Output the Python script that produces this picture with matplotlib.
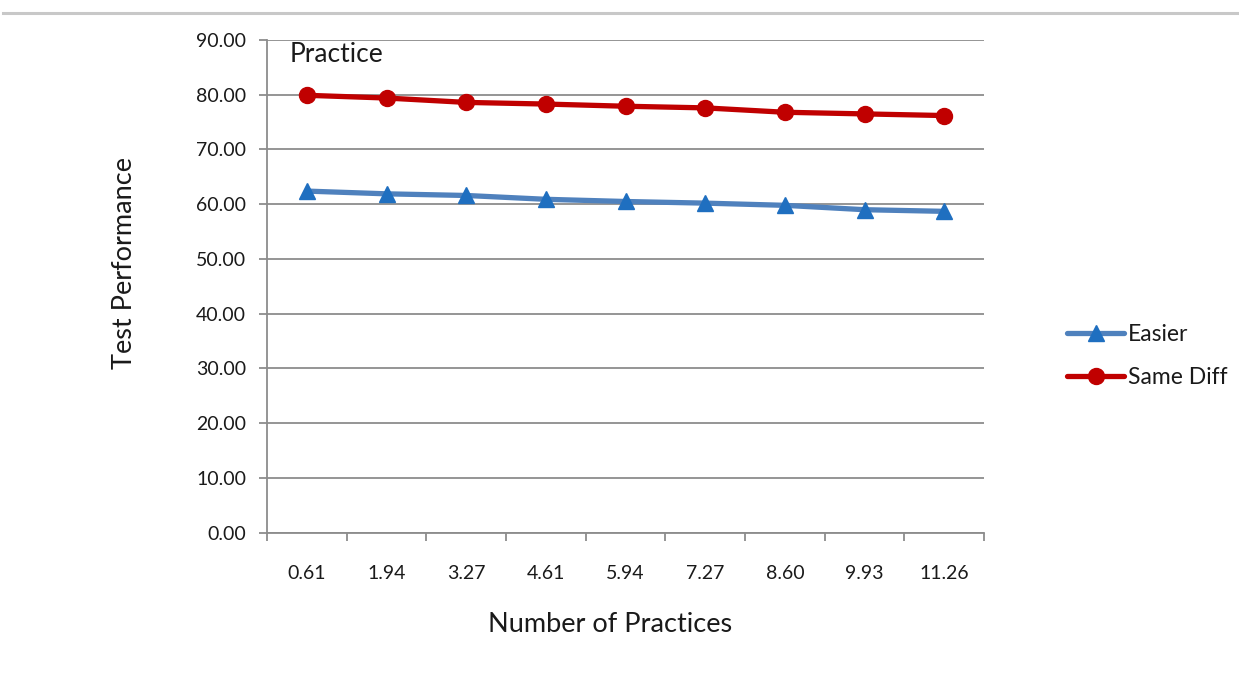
import matplotlib
matplotlib.use("Agg")
import matplotlib.pyplot as plt
from matplotlib.lines import Line2D

plt.rcParams['font.family'] = ['Lato', 'DejaVu Sans']

# Data
practices = ["0.61", "1.94", "3.27", "4.61", "5.94", "7.27", "8.60", "9.93", "11.26"]
easier = [62.4, 61.9, 61.6, 60.9, 60.5, 60.2, 59.8, 59.0, 58.7]
same_diff = [79.9, 79.4, 78.6, 78.3, 77.9, 77.6, 76.8, 76.5, 76.2]
y_ticks = [0, 10, 20, 30, 40, 50, 60, 70, 80, 90]

W, H = 1239, 688
fig = plt.figure(figsize=(W / 100, H / 100), dpi=100)
ax = fig.add_axes([267 / W, 1 - 532.7 / H, (984 - 267) / W, (532.7 - 40) / H])

grid_color = "#8c8c8c"
text_color = "#1a1a1a"
x = list(range(len(practices)))

ax.plot(x, easier, color="#4F81BD", lw=3.8, marker="^", markersize=12,
        markerfacecolor="#1F6FC0", markeredgecolor="#1F6FC0", label="Easier",
        solid_capstyle="round", zorder=3)
ax.plot(x, same_diff, color="#C00000", lw=3.8, marker="o", markersize=11.5,
        markerfacecolor="#C00000", markeredgecolor="#C00000", label="Same Diff",
        solid_capstyle="round", zorder=4)

ax.set_xlim(-0.5, len(practices) - 0.5)
ax.set_ylim(0, 90)
ax.set_yticks(y_ticks)
ax.set_yticklabels([f"{v:.2f}" for v in y_ticks], fontsize=14, color=text_color)
ax.yaxis.grid(True, color=grid_color, lw=1.3)
ax.set_axisbelow(True)

# Category boundaries carry tick marks, labels sit at category centres
ax.set_xticks([i - 0.5 for i in range(len(practices) + 1)])
ax.set_xticklabels([])
ax.set_xticks(x, minor=True)
ax.set_xticklabels(practices, minor=True, fontsize=14, color=text_color)
ax.tick_params(axis="x", which="major", direction="out", length=6, color=grid_color, width=1.3)
ax.tick_params(axis="x", which="minor", length=0, pad=23)
ax.tick_params(axis="y", direction="out", length=6, color=grid_color, width=1.3, pad=9)

for side in ("top", "right"):
    ax.spines[side].set_visible(False)
for side in ("left", "bottom"):
    ax.spines[side].set_color(grid_color)
    ax.spines[side].set_linewidth(1.3)

fig.text(125 / W, 1 - 263 / H, "Test Performance", rotation=90, ha="center", va="center",
         fontsize=19.5, color=text_color)
fig.text(610 / W, 1 - 625 / H, "Number of Practices", ha="center", va="center",
         fontsize=19.5, color=text_color)
fig.text(290 / W, 1 - 54 / H, "Practice", ha="left", va="center",
         fontsize=19, color=text_color)

leg = ax.legend(loc="center left", bbox_to_anchor=(1058 / W, 1 - 356 / H),
                bbox_transform=fig.transFigure, frameon=False, fontsize=16.5,
                handlelength=2.5, handletextpad=0.15, labelspacing=1.0,
                borderaxespad=0)
for t in leg.get_texts():
    t.set_color(text_color)

# Thin border line across the top of the sheet
fig.add_artist(Line2D([3 / W, 1], [1 - 13 / H, 1 - 13 / H], color="#c8c8c8", lw=2.2))

fig.savefig("out.png", dpi=100)
